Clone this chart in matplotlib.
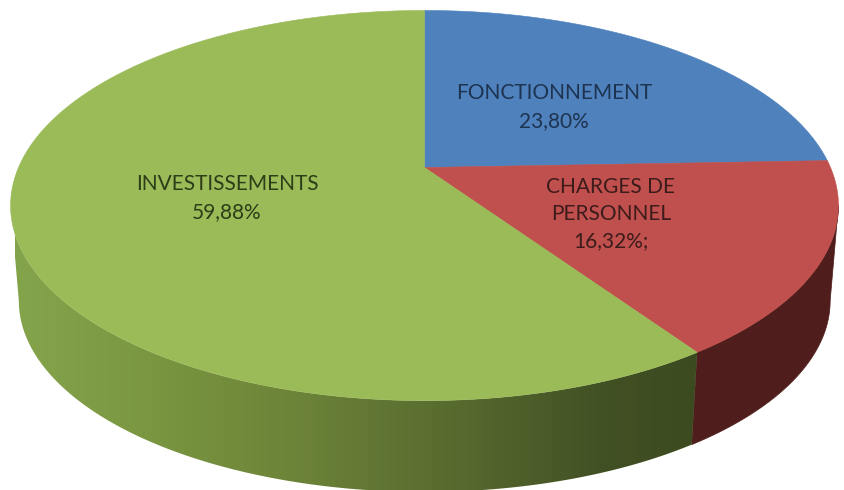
import matplotlib
matplotlib.use('Agg')
import matplotlib.pyplot as plt
import numpy as np
from matplotlib.colors import LinearSegmentedColormap
from matplotlib.patches import Polygon

categories = ['FONCTIONNEMENT', 'CHARGES DE\nPERSONNEL', 'INVESTISSEMENTS']
values = [23.80, 16.32, 59.88]
value_labels = ['23,80%', '16,32%;', '59,88%']

top_colors = ['#4f81bd', '#c0504d', '#9bbb59']

# perspective of the disc, in pixels (y down)
CX, CY = 424.5, 167.5
A, B, K = 406.0, 155.0, 0.195
SHRINK, DEPTH = 0.98, 96.0


def project(theta_deg):
    # clockwise from 12 o'clock on the disc -> screen position
    t = np.deg2rad(theta_deg)
    u, v = np.sin(t), -np.cos(t)
    w = 1 - K * v
    return CX + A * u / w, (CY + B * v) / w


def project_bottom(theta_deg):
    x, y = project(theta_deg)
    return CX + SHRINK * (x - CX), CY + SHRINK * (y - CY) + DEPTH


fig = plt.figure(figsize=(8.45, 4.9), dpi=100)
ax = fig.add_axes([0, 0, 1, 1])
ax.set_xlim(0, 845)
ax.set_ylim(490, 0)
ax.axis('off')

edges = np.concatenate([[0], np.cumsum(values)]) * 3.6
# small correction: the slices sit a bit further round on the tilted disc
edges = edges + 2.2 * np.sin(np.deg2rad(edges))
tangent = np.rad2deg(np.arccos(-K))  # where the rim starts to show, right side
tangent_left = 360 - tangent

# rim: red part
th = np.linspace(tangent, edges[2], 100)
xt, yt = project(th)
xb, yb = project_bottom(th)
ax.fill(np.r_[xt, xb[::-1]], np.r_[yt, yb[::-1]], color='#4f1e1c', lw=0.5, zorder=1)

# rim: green part with the dark gradient
th = np.linspace(edges[2], tangent_left, 300)
xt, yt = project(th)
xb, yb = project_bottom(th)
rim = Polygon(np.c_[np.r_[xt, xb[::-1]], np.r_[yt, yb[::-1]]], closed=True,
              transform=ax.transData, fc='none', ec='none')
ax.add_patch(rim)
cmap = LinearSegmentedColormap.from_list('rim', [
    (0.0, '#84a44c'), (0.2, '#7a9640'), (0.42, '#6b8238'),
    (0.65, '#56692e'), (0.85, '#425124'), (1.0, '#3c4a20')])
img = ax.imshow(np.linspace(0, 1, 256).reshape(1, -1), cmap=cmap, aspect='auto',
                extent=[15, 705, 495, 200], zorder=1)
img.set_clip_path(rim)
ax.set_xlim(0, 845)
ax.set_ylim(490, 0)

# top of the disc
for i in range(len(values)):
    th = np.linspace(edges[i], edges[i + 1], 200)
    x, y = project(th)
    ax.fill(np.r_[CX, x], np.r_[CY, y], color=top_colors[i], lw=0.4, zorder=2)

label_xy = [(554, 107), (611, 214), (227, 198)]
label_colors = ['#1d3350', '#3c1b1b', '#2c3d18']
for name, val, (lx, ly), col in zip(categories, value_labels, label_xy, label_colors):
    ax.text(lx, ly, name + '\n' + val, ha='center', va='center', color=col,
            family='Lato', fontsize=15, linespacing=1.45, zorder=3)

fig.savefig('out.png', dpi=100)
